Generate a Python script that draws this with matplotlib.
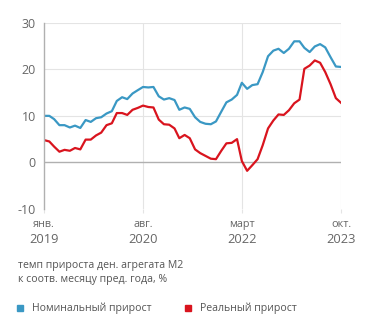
import matplotlib
matplotlib.use("Agg")
import matplotlib.pyplot as plt
import numpy as np
import pandas as pd

plt.rcParams['font.family'] = ['Open Sans', 'DejaVu Sans']

months = pd.date_range("2019-01-01", "2023-10-01", freq="MS")
nominal = [10.0, 10.0, 9.3, 8.0, 8.0, 7.5, 7.9, 7.4, 9.1, 8.7,
           9.5, 9.7, 10.5, 11.0, 13.2, 14.0, 13.6, 14.8, 15.5, 16.2,
           16.1, 16.2, 14.2, 13.5, 13.8, 13.4, 11.3, 11.8, 11.5, 9.7,
           8.7, 8.3, 8.2, 8.8, 10.9, 12.9, 13.5, 14.5, 17.1, 15.8,
           16.6, 16.8, 19.4, 22.8, 24.0, 24.4, 23.5, 24.4, 26.0, 26.0,
           24.6, 23.7, 24.9, 25.4, 24.7, 22.6, 20.6, 20.5]
real = [4.8, 4.5, 3.4, 2.3, 2.7, 2.5, 3.1, 2.8, 4.9, 4.9,
        5.8, 6.4, 8.0, 8.4, 10.6, 10.6, 10.2, 11.3, 11.7, 12.2,
        11.9, 11.8, 9.2, 8.2, 8.1, 7.3, 5.2, 5.9, 5.2, 2.8,
        2.0, 1.4, 0.8, 0.7, 2.5, 4.1, 4.2, 5.0, 0.3, -1.8,
        -0.6, 0.7, 3.7, 7.3, 9.0, 10.3, 10.2, 11.2, 12.7, 13.5,
        20.1, 20.8, 21.9, 21.4, 19.4, 16.8, 13.8, 12.8]
tick_dates = pd.to_datetime(["2019-01-01", "2020-08-01", "2022-03-01", "2023-10-01"])
tick_months = ["янв.", "авг.", "март", "окт."]
tick_years = ["2019", "2020", "2022", "2023"]
y_ticks = [-10, 0, 10, 20, 30]
labels = ["Номинальный прирост", "Реальный прирост"]
caption = "темп прироста ден. агрегата М2\nк соотв. месяцу пред. года, %"

blue = "#3a98c4"
red = "#d9141e"
grid = "#e4e4e4"
txt = "#666666"

fig = plt.figure(figsize=(3.71, 3.29), dpi=100)
ax = fig.add_axes([44/371, 120/329, 297/371, 186.3/329])

ax.plot(months, nominal, color=blue, lw=1.6, solid_joinstyle='round')
ax.plot(months, real, color=red, lw=1.6, solid_joinstyle='round')

ax.set_ylim(-10, 30)
ax.set_xlim(months[0], months[-1])
ax.set_yticks(y_ticks)
ax.set_yticklabels([str(v) for v in y_ticks], color=txt, fontsize=9)
ax.set_xticks(tick_dates)
ax.set_xticklabels([""] * len(tick_dates))
for d, m, yv in zip(tick_dates, tick_months, tick_years):
    ax.annotate(m, xy=(d, -10), xycoords='data', xytext=(0, -7.5), textcoords='offset points',
                ha='center', va='top', fontsize=7.8, color=txt)
    ax.annotate(yv, xy=(d, -10), xycoords='data', xytext=(0, -17.5), textcoords='offset points',
                ha='center', va='top', fontsize=9.3, color=txt)

for v in [10, 20, 30]:
    ax.axhline(v, color=grid, lw=0.8, zorder=0)
ax.axhline(0, color="#b0b0b0", lw=1.0, zorder=1)
for d in tick_dates[1:]:
    ax.axvline(d, color=grid, lw=0.8, zorder=0)

for s in ["top", "right", "bottom"]:
    ax.spines[s].set_visible(False)
ax.spines["left"].set_color("#b0b0b0")
ax.spines["left"].set_linewidth(1.0)
ax.tick_params(axis='y', length=0, pad=6)
ax.tick_params(axis='x', length=3, color=grid, width=0.8)

fig.text(18/371, 1 - 260/329, caption, fontsize=7.6, color="#555555", va='top', ha='left', linespacing=1.35)

fig.patches.append(plt.Rectangle((17/371, 1 - 311/329), 6/371, 6/329, transform=fig.transFigure,
                                 color=blue, figure=fig))
fig.text(32/371, 1 - 308/329, labels[0], fontsize=7.6, color="#555555", va='center', ha='left')
fig.patches.append(plt.Rectangle((185/371, 1 - 311/329), 6/371, 6/329, transform=fig.transFigure,
                                 color=red, figure=fig))
fig.text(200/371, 1 - 308/329, labels[1], fontsize=7.6, color="#555555", va='center', ha='left')

fig.savefig("out.png", dpi=100)
